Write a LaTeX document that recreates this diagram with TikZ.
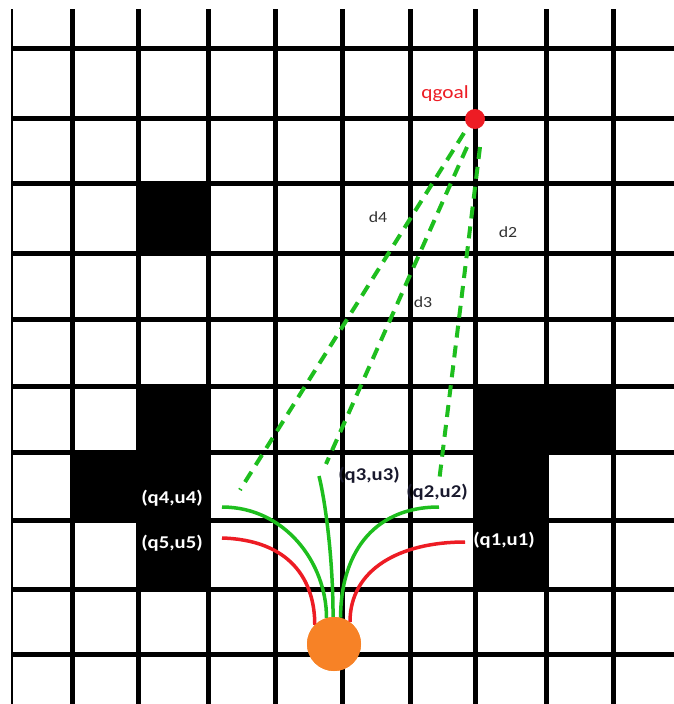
\documentclass[tikz,border=0pt]{standalone}
\usepackage{fontspec}
\newfontfamily\labfont[FakeStretch=1.15]{Carlito}
\definecolor{goalred}{RGB}{237,28,36}
\definecolor{pathgreen}{RGB}{30,190,30}
\definecolor{robotorange}{RGB}{247,130,38}
\definecolor{dgray}{RGB}{50,50,50}
\definecolor{darklab}{RGB}{25,25,45}
\tikzset{
  gridline/.style={line width=5pt, black},
  obstacle/.style={fill=black},
  dist/.style={pathgreen, line width=4pt, dash pattern=on 12pt off 8pt},
  okpath/.style={pathgreen, line width=3.5pt},
  badpath/.style={goalred, line width=3.5pt},
  whitelab/.style={text=white, font=\labfont\bfseries\fontsize{18}{20}\selectfont, inner sep=0pt},
  darklabel/.style={text=darklab, font=\labfont\bfseries\fontsize{18}{20}\selectfont, inner sep=0pt},
  dlab/.style={text=dgray, font=\labfont\fontsize{15.5}{17}\selectfont, inner sep=0pt}
}
\begin{document}
\begin{tikzpicture}[x=1pt,y=-1pt]
\useasboundingbox (0,0) rectangle (674,704);
\fill[white] (0,0) rectangle (674,704);
% obstacles
\fill[obstacle] (138,183) rectangle (208,253);
\fill[obstacle] (138,386) rectangle (208,589);
\fill[obstacle] (72,452) rectangle (138,520);
\fill[obstacle] (475,386) rectangle (613,452);
\fill[obstacle] (475,452) rectangle (546,589);
% grid
\foreach \x in {72,138,208,275,342,410,475,546,613}
  \draw[gridline] (\x,9) -- (\x,704);
\foreach \y in {48,118,183,253,319,386,452,520,589,654}
  \draw[gridline] (12,\y) -- (674,\y);
\draw[line width=2pt] (12,9) -- (12,704);
% goal
\node[circle, fill=goalred, minimum size=20pt, inner sep=0pt] (goal) at (475,119) {};
\node[text=goalred, font=\labfont\fontsize{18.5}{20}\selectfont, inner sep=0pt] (goallab) at (445,94) {qgoal};
% distance lines
\coordinate (s4) at (464,133);
\coordinate (s3) at (467,147);
\coordinate (s2) at (480,147);
\coordinate (e4) at (240,490);
\coordinate (e3) at (326,464);
\coordinate (e2) at (439,482);
\draw[dist] (s4) -- (e4);
\draw[dist] (s3) -- (e3);
\draw[dist] (s2) -- (e2);
\node[dlab] (d4) at (378,217) {d4};
\node[dlab] (d2) at (508,232) {d2};
\node[dlab] (d3) at (423,302) {d3};
% robot
\node[circle, fill=robotorange, minimum size=54pt, inner sep=0pt] (robot) at (334,644) {};
% path end points
\coordinate (p5) at (222,538);
\coordinate (p4) at (222,507);
\coordinate (p3) at (319,476);
\coordinate (p2) at (439,507);
\coordinate (p1) at (465,542);
\draw[badpath] (p5) .. controls +(68,2) and +(0,-45) .. (robot.135);
\draw[okpath] (p4) .. controls +(63,0) and +(0,-55) .. (robot.106);
\draw[okpath] (p3) .. controls +(6,24) and +(0,-60) .. (robot.92);
\draw[okpath] (p2) .. controls +(-69,0) and +(0,-60) .. (robot.76);
\draw[badpath] (p1) .. controls +(-65,0) and +(0,-53) .. (robot.54);
\node[fill=robotorange, circle, minimum size=54pt, inner sep=0pt] at (robot) {};
% labels
\node[whitelab] (l4) at (172,498) {(q4,u4)};
\node[whitelab] (l5) at (172,543) {(q5,u5)};
\node[whitelab] (l1) at (504,540) {(q1,u1)};
\node[darklabel] (l3) at (369,475) {(q3,u3)};
\node[darklabel] (l2) at (437,492) {(q2,u2)};
\end{tikzpicture}
\end{document}
